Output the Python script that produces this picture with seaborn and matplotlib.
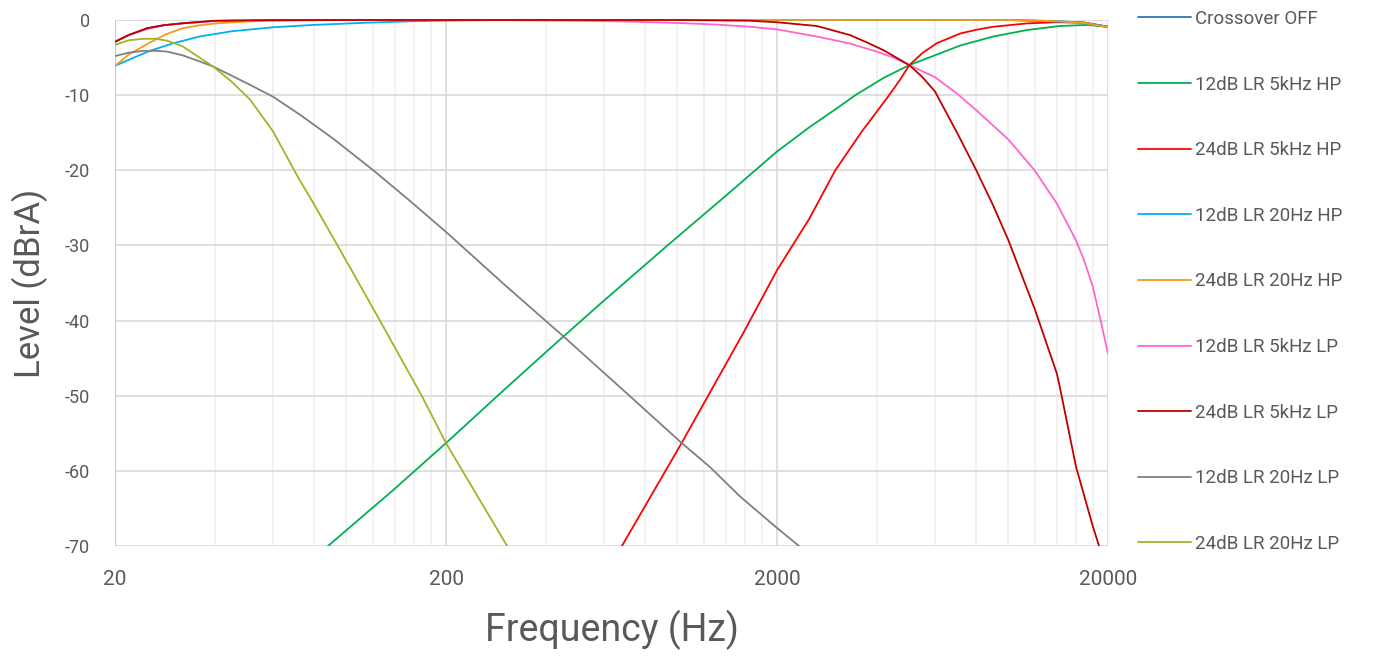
import matplotlib
matplotlib.use("Agg")
import matplotlib.pyplot as plt
from matplotlib.patches import Rectangle
from matplotlib.ticker import NullFormatter
import seaborn as sns
import pandas as pd

# ---- series (frequency in Hz, level in dBrA) ----
off_f = [20, 22, 25, 28, 32, 40, 60, 100, 1000, 10000, 14000, 17000, 20000]
off_db = [-2.9, -2.0, -1.1, -0.7, -0.44, -0.12, -0.02, 0, 0, 0, -0.15, -0.35, -0.9]

hp12_5k_f = [20, 50, 88, 139, 200, 300, 403, 584, 928, 1400, 2000, 2500, 3000, 3450,
             4200, 5020, 6000, 7150, 9000, 11400, 14300, 17400, 20000]
hp12_5k_db = [-95, -80, -70, -62.5, -56.3, -49.2, -44.1, -37.8, -30.1, -23.4, -17.5,
              -14.3, -11.9, -10.0, -7.7, -6.0, -4.7, -3.4, -2.2, -1.33, -0.8, -0.65, -0.93]

hp24_5k_f = [500, 680, 1030, 1580, 2000, 2500, 3000, 3600, 4330, 4700, 5020, 5500,
             6070, 7150, 8000, 9000, 11400, 14000, 17000, 20000]
hp24_5k_db = [-81, -70, -56.3, -41.7, -33.3, -26.5, -20.0, -14.9, -10.2, -8.0, -6.0,
              -4.4, -3.1, -1.8, -1.3, -0.9, -0.45, -0.3, -0.35, -0.9]

hp12_20_f = [20, 22, 25.5, 30, 36, 45, 60, 80, 115, 163, 220, 300, 10000, 14000,
             17000, 20000]
hp12_20_db = [-6.1, -5.3, -4.1, -3.1, -2.2, -1.5, -0.97, -0.65, -0.36, -0.15, -0.05, 0,
              0, -0.2, -0.4, -0.9]

hp24_20_f = [20, 22, 25.5, 28.5, 32, 36, 40.6, 50, 60, 100, 10000, 14000, 17000, 20000]
hp24_20_db = [-6.1, -4.6, -3.0, -1.9, -1.1, -0.7, -0.44, -0.2, -0.1, 0, 0, -0.15, -0.4,
              -0.95]

lp12_5k_f = [20, 22, 25, 28, 32, 40, 60, 100, 300, 500, 700, 1000, 1300, 1660, 2000,
             2640, 3300, 4000, 4500, 5020, 6000, 7000, 8000, 10000, 12000, 14000,
             16000, 17000, 18000, 19000, 20000]
lp12_5k_db = [-2.9, -2.0, -1.2, -0.7, -0.45, -0.12, -0.03, 0, -0.03, -0.1, -0.2, -0.4,
              -0.6, -0.9, -1.25, -2.2, -3.1, -4.2, -5.0, -6.0, -7.6, -9.8, -12.0, -15.9,
              -20.0, -24.4, -29.3, -32.2, -35.5, -40.0, -44.4]

lp24_5k_f = [20, 22, 25, 28, 32, 40, 60, 100, 1000, 1660, 2000, 2640, 3320, 3700, 4190,
             5020, 5500, 6000, 7000, 8000, 9000, 10000, 12000, 14000, 14300, 16000,
             18000, 18800, 20000]
lp24_5k_db = [-2.9, -2.0, -1.1, -0.7, -0.44, -0.1, -0.02, 0, 0, -0.1, -0.3, -0.8, -2.0,
              -2.9, -4.0, -6.0, -7.6, -9.5, -15.0, -20.0, -24.7, -29.3, -38.4, -47.0,
              -48.8, -59.4, -67.4, -70, -76]

lp12_20_f = [20, 22, 24.4, 26.5, 28.7, 32, 36, 39.6, 45, 51, 60, 72.4, 91.3, 120.6, 154,
             200, 300, 458, 700, 1019, 1255, 1546, 2000, 2347, 2600]
lp12_20_db = [-4.8, -4.35, -4.1, -4.1, -4.2, -4.7, -5.5, -6.2, -7.4, -8.6, -10.2, -12.6,
              -15.8, -20.0, -23.9, -28.2, -35.2, -42.3, -49.6, -56.1, -59.5, -63.4,
              -67.6, -70.1, -72]

lp24_20_f = [20, 22, 24.4, 26.5, 28.7, 32, 36, 39.6, 45, 51.2, 60, 71.6, 78.6, 94.6,
             126.3, 168.9, 200, 250, 306, 340]
lp24_20_db = [-3.3, -2.7, -2.5, -2.5, -2.75, -3.5, -5.0, -6.2, -8.2, -10.6, -14.8, -21.0,
              -24.0, -30.2, -40.0, -50.0, -56.3, -63.5, -70.0, -73.5]

series = {
    "Crossover OFF": (off_f, off_db),
    "12dB LR 5kHz HP": (hp12_5k_f, hp12_5k_db),
    "24dB LR 5kHz HP": (hp24_5k_f, hp24_5k_db),
    "12dB LR 20Hz HP": (hp12_20_f, hp12_20_db),
    "24dB LR 20Hz HP": (hp24_20_f, hp24_20_db),
    "12dB LR 5kHz LP": (lp12_5k_f, lp12_5k_db),
    "24dB LR 5kHz LP": (lp24_5k_f, lp24_5k_db),
    "12dB LR 20Hz LP": (lp12_20_f, lp12_20_db),
    "24dB LR 20Hz LP": (lp24_20_f, lp24_20_db),
}
colors = ["#2E75B6", "#00B050", "#FF0000", "#00B0F0", "#F79A1B",
          "#FF66CC", "#C00000", "#808080", "#A5B227"]

x_ticks = [20, 200, 2000, 20000]
y_ticks = [0, -10, -20, -30, -40, -50, -60, -70]

df = pd.DataFrame([
    {"Series": name, "Frequency": f, "Level": v}
    for name, (fs, vs) in series.items()
    for f, v in zip(fs, vs)
])

sns.set_theme(style="white")
plt.rcParams["font.family"] = ["Roboto", "DejaVu Sans"]
text_col = "#595959"

fig = plt.figure(figsize=(13.8, 6.56), dpi=100)
ax = fig.add_axes([115 / 1380, 110 / 656, 993 / 1380, 526 / 656])

sns.lineplot(data=df, x="Frequency", y="Level", hue="Series",
             hue_order=list(series.keys()), palette=colors,
             estimator=None, sort=False, linewidth=1.3, ax=ax, legend=True)

ax.set_xscale("log")
ax.set_xlim(20, 20000)
ax.set_ylim(-70, 0)

# gridlines like the Excel chart: majors per decade from 20, minors at multiples of 20
minor = [k * 20 * 10 ** d for d in range(3) for k in range(2, 10)]
ax.set_xticks(minor, minor=True)
ax.xaxis.set_minor_formatter(NullFormatter())
ax.set_xticks(x_ticks)
ax.set_xticklabels([str(t) for t in x_ticks], fontsize=15, color=text_col)
ax.set_yticks(y_ticks)
ax.set_yticklabels([str(t) for t in y_ticks], fontsize=13, color=text_col)
ax.grid(which="major", color="#D9D9D9", linewidth=1.2)
ax.grid(which="minor", axis="x", color="#F0F0F0", linewidth=1.2)
ax.tick_params(which="both", length=0)
ax.tick_params(axis="x", pad=17)
ax.tick_params(axis="y", pad=18)
for s in ax.spines.values():
    s.set_visible(False)
ax.axvline(20, color="#C8C8C8", linewidth=1.5, zorder=1)

clip = Rectangle((0, 0), 1, 1.03, transform=ax.transAxes)
for ln in ax.get_lines()[:len(series)]:
    ln.set_clip_path(clip)

ax.set_xlabel("Frequency (Hz)", fontsize=27, color=text_col, labelpad=15)
ax.set_ylabel("Level (dBrA)", fontsize=25, color=text_col, labelpad=12)

handles, labels = ax.get_legend_handles_labels()
ax.legend(handles, labels, loc="upper left", bbox_to_anchor=(1138 / 1380, 1 - 10 / 656),
          bbox_transform=fig.transFigure, frameon=False, fontsize=13.5,
          labelcolor=text_col, handlelength=2.8, handletextpad=0.25,
          labelspacing=2.54, borderpad=0, borderaxespad=0)

fig.savefig("out.png", dpi=100)
